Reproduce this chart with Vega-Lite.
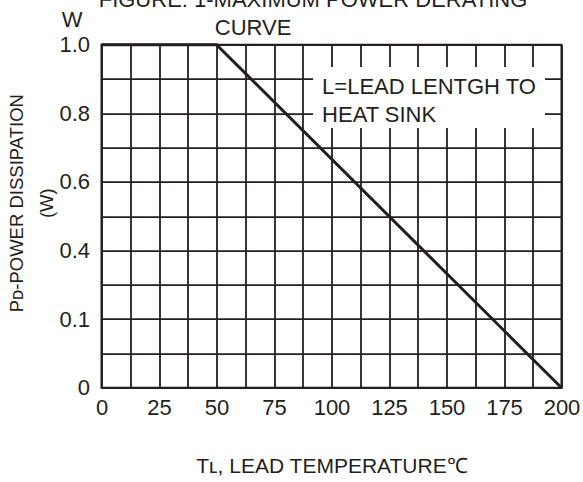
{
  "$schema": "https://vega.github.io/schema/vega-lite/v6.json",
  "width": 460,
  "height": 343,
  "autosize": {"type": "none"},
  "padding": {"left": 101.5, "top": 44.7, "right": 21.5, "bottom": 94.3},
  "background": "white",
  "config": {
    "font": "Liberation Sans",
    "view": {"stroke": "#231f20", "strokeWidth": 2},
    "axis": {
      "domain": false,
      "ticks": false,
      "grid": true,
      "gridColor": "#231f20",
      "gridWidth": 1.8,
      "gridOpacity": 1,
      "labelFontSize": 22,
      "labelColor": "#231f20",
      "labelFont": "Liberation Sans",
      "labelOverlap": false,
      "labelFlush": false,
      "titleFont": "Liberation Sans",
      "titleFontWeight": "normal",
      "titleColor": "#231f20"
    },
    "text": {"font": "Liberation Sans", "color": "#231f20"}
  },
  "title": {
    "text": "FIGURE: 1-MAXIMUM POWER DERATING",
    "fontSize": 22,
    "fontWeight": "normal",
    "font": "Liberation Sans",
    "color": "#231f20",
    "anchor": "middle",
    "frame": "group",
    "dx": -18.5,
    "baseline": "alphabetic",
    "offset": -19.7
  },
  "encoding": {
    "x": {
      "field": "T",
      "type": "quantitative",
      "scale": {"domain": [0, 200], "nice": false, "zero": false},
      "axis": {
        "values": [0, 12.5, 25, 37.5, 50, 62.5, 75, 87.5, 100, 112.5, 125, 137.5, 150, 162.5, 175, 187.5, 200],
        "labelExpr": "datum.value % 25 == 0 ? datum.label : ''",
        "labelPadding": 10,
        "title": "Tʟ, LEAD TEMPERATURE℃",
        "titleFontSize": 21,
        "titleY": 85,
        "titleBaseline": "alphabetic"
      }
    },
    "y": {
      "field": "P",
      "type": "quantitative",
      "scale": {"domain": [0, 1], "nice": false, "zero": false},
      "axis": {
        "values": [0, 0.1, 0.2, 0.3, 0.4, 0.5, 0.6, 0.7, 0.8, 0.9, 1],
        "labelExpr": "datum.value == 1 ? '1.0' : datum.value == 0.8 ? '0.8' : datum.value == 0.6 ? '0.6' : datum.value == 0.4 ? '0.4' : datum.value == 0.2 ? '0.1' : datum.value == 0 ? '0' : ''",
        "labelPadding": 12,
        "title": ["Pᴅ-POWER DISSIPATION", "(W)"],
        "titleFontSize": 18.5,
        "titleAngle": -90,
        "titleX": -85.5,
        "titleY": 158,
        "titleAlign": "center",
        "titleBaseline": "middle",
        "titleLineHeight": 30
      }
    }
  },
  "layer": [
    {
      "data": {"values": [{"T": 92, "T2": 192.8, "P": 0.757, "P2": 0.935}]},
      "mark": {"type": "rect", "fill": "white", "stroke": null},
      "encoding": {
        "x2": {"field": "T2"},
        "y2": {"field": "P2"}
      }
    },
    {
      "data": {"values": [{"T": 0, "P": 1}, {"T": 50, "P": 1}, {"T": 200, "P": 0}]},
      "mark": {"type": "line", "color": "#231f20", "strokeWidth": 3},
      "encoding": {}
    },
    {
      "data": {"values": [
        {"T": 95.9, "P": 0.8555, "label": "L=LEAD LENTGH TO"},
        {"T": 95.9, "P": 0.774, "label": "HEAT SINK"}
      ]},
      "mark": {"type": "text", "align": "left", "baseline": "alphabetic", "fontSize": 22},
      "encoding": {
        "text": {"field": "label"}
      }
    },
    {
      "data": {"values": [
        {"T": -12.8, "P": 1.0516, "label": "W"},
        {"T": 65.9, "P": 1.0283, "label": "CURVE"}
      ]},
      "mark": {"type": "text", "align": "center", "baseline": "alphabetic", "fontSize": 22, "clip": false},
      "encoding": {
        "text": {"field": "label"}
      }
    }
  ]
}
